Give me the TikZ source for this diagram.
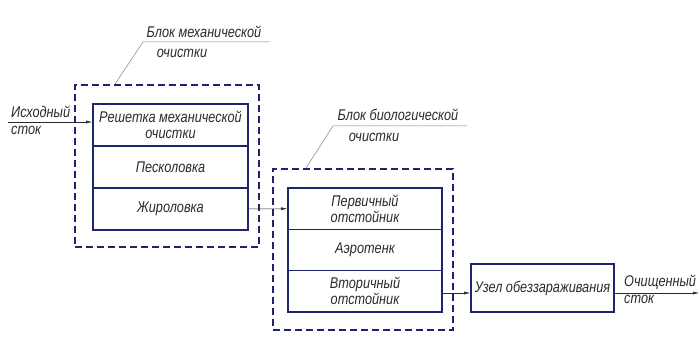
\documentclass[tikz,border=0pt]{standalone}
\usepackage{fontspec}
\setmainfont{Liberation Sans}[FakeStretch=0.82]
\usetikzlibrary{arrows.meta}
\definecolor{navy}{HTML}{1E2470}
\definecolor{ink}{HTML}{2A2A2A}
\begin{document}
\begin{tikzpicture}[x=1pt,y=-1pt,
  every node/.style={font=\fontsize{15.5}{16}\selectfont\itshape, text=ink},
  cell/.style={draw=navy, line width=1.6pt, inner sep=0pt, align=center},
  block/.style={draw=navy, line width=1.6pt, dash pattern=on 7pt off 4pt, inner sep=0pt},
  flow/.style={draw=ink, line width=0.5pt, -{Latex[length=6pt,width=3pt]}},
  leader/.style={draw=gray, line width=0.5pt},
  lbl/.style={inner sep=0pt, anchor=center}]
\useasboundingbox (0,0) rectangle (700,352);
% mechanical block
\node[block, minimum width=184pt, minimum height=162pt] (mb) at (167,166) {};
\node[cell, minimum width=155pt, minimum height=42pt] (m1) at (170.5,125) {Решетка механической\\очистки};
\node[cell, minimum width=155pt, minimum height=42pt] (m2) at (170.5,167) {Песколовка};
\node[cell, minimum width=155pt, minimum height=42pt] (m3) at (170.5,209) {Жироловка};
% biological block
\node[block, minimum width=180pt, minimum height=161pt] (bb) at (363,249.5) {};
\node[cell, minimum width=154pt, minimum height=41.3pt] (b1) at (365,208.7) {Первичный\\отстойник};
\node[cell, minimum width=154pt, minimum height=41.3pt] (b2) at (365,250) {Аэротенк};
\node[cell, minimum width=154pt, minimum height=41.3pt] (b3) at (365,291.3) {Вторичный\\отстойник};
% disinfection
\node[cell, minimum width=143pt, minimum height=48pt] (uz) at (542.5,288) {Узел обеззараживания};
% leaders and block labels
\coordinate (ml0) at (115,84);
\coordinate (ml1) at (143,42);
\coordinate (ml2) at (270,42);
\draw[leader] (ml0) -- (ml1) -- (ml2);
\node[lbl] (mt1) at (204,32) {Блок механической};
\node[lbl] (mt2) at (182,53) {очистки};
\coordinate (bl0) at (306,168);
\coordinate (bl1) at (333,126);
\coordinate (bl2) at (467,126);
\draw[leader] (bl0) -- (bl1) -- (bl2);
\node[lbl] (bt1) at (398,115) {Блок биологической};
\node[lbl] (bt2) at (374,137) {очистки};
% flows
\coordinate (in) at (8,122);
\draw[flow] (in) -- (in -| m1.west);
\node[lbl, anchor=west] (it1) at (11,112) {Исходный};
\node[lbl, anchor=west] (it2) at (11,130) {сток};
\draw[flow] (m3.east) -- (b1.west);
\draw[flow] (b3.east |- 0,293) -- (uz.west |- 0,293);
\coordinate (out) at (699,293);
\draw[flow] (uz.east |- out) -- (out);
\node[lbl, anchor=west] (ot1) at (624,282) {Очищенный};
\node[lbl, anchor=west] (ot2) at (624,299) {сток};
\end{tikzpicture}
\end{document}
